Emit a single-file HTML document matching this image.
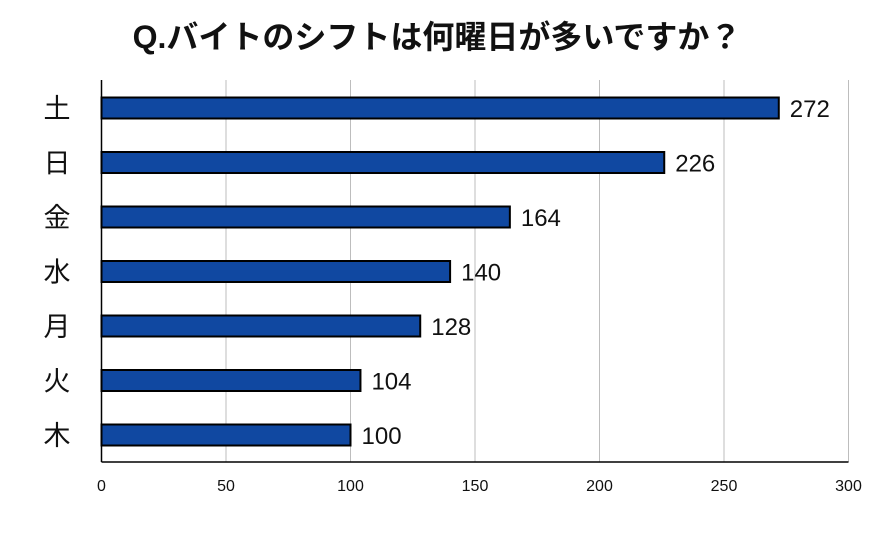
<!DOCTYPE html>
<html><head><meta charset="utf-8"><style>
body{margin:0;background:#fff;}
svg text{font-family:"Liberation Sans","Noto Sans CJK JP",sans-serif;}
</style></head><body>
<svg width="879" height="534" viewBox="0 0 879 534">
<rect width="879" height="534" fill="#fff"/>
<text x="437" y="48" text-anchor="middle" font-size="32" font-weight="bold" fill="#111">Q.バイトのシフトは何曜日が多いですか？</text>
<g id="grid"></g><g id="bars"></g><g id="labels"></g><g id="axes"></g>
</svg>
<script>
const categories=["土","日","金","水","月","火","木"];
const values=[272,226,164,140,128,104,100];
const ticks=[0,50,100,150,200,250,300];
const NS="http://www.w3.org/2000/svg";
const x0=101.5,x1=848.5,xmax=300,yTop=80,yBottom=462,step=54.5,firstC=108,bh=21;
const xs=v=>x0+(x1-x0)*v/xmax;
const ys=i=>firstC+i*step;
function mk(t,a,p){const e=document.createElementNS(NS,t);for(const k in a)e.setAttribute(k,a[k]);p.appendChild(e);return e;}
const g=document.getElementById('grid'),b=document.getElementById('bars'),l=document.getElementById('labels'),ax=document.getElementById('axes');
ticks.forEach(t=>{
 if(t>0){const ln=mk('line',{x1:xs(t),x2:xs(t),y1:yTop,y2:yBottom,stroke:'#bdbdbd','stroke-width':1},g);
 
 }
 const tx=mk('text',{x:xs(t),y:491,'text-anchor':'middle','font-size':16,fill:'#111'},l);
 tx.textContent=t;
 
 
});
categories.forEach((c,i)=>{
 const r=mk('rect',{x:x0,y:ys(i)-bh/2,width:xs(values[i])-x0,height:bh,fill:'#1048a1',stroke:'#000','stroke-width':2},b);
 
 
 const ct=mk('text',{x:57,y:ys(i)+10,'text-anchor':'middle','font-size':27,fill:'#111'},l);
 ct.textContent=c;
 
 
 const vt=mk('text',{x:xs(values[i])+11,y:ys(i)+9,'font-size':24,fill:'#111'},l);
 vt.textContent=values[i];
 
 
});
const ya=mk('line',{x1:x0,x2:x0,y1:yTop,y2:yBottom,stroke:'#000','stroke-width':1.5},ax);


const xa=mk('line',{x1:x0,x2:x1,y1:yBottom,y2:yBottom,stroke:'#000','stroke-width':1.5},ax);


</script>
</body></html>
